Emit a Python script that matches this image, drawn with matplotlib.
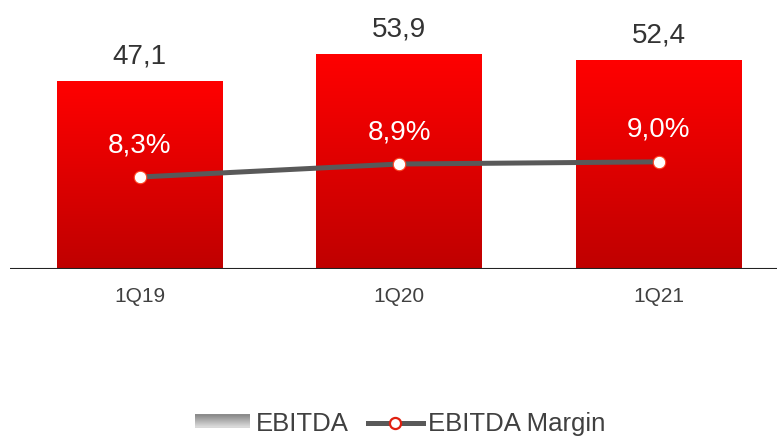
import numpy as np
import matplotlib.pyplot as plt
from matplotlib.lines import Line2D
from matplotlib.patches import Patch, Rectangle
from matplotlib.legend_handler import HandlerBase

quarters = ["1Q19", "1Q20", "1Q21"]
ebitda = [47.1, 53.9, 52.4]
margin = [8.3, 8.9, 9.0]
ebitda_labels = ["47,1", "53,9", "52,4"]
margin_labels = ["8,3%", "8,9%", "9,0%"]

plt.rcParams['font.family'] = ['Liberation Sans', 'DejaVu Sans']


class GrayGradientHandler(HandlerBase):
    # legend key drawn as a small grey gradient bar
    def create_artists(self, legend, orig_handle, xdescent, ydescent,
                       width, height, fontsize, trans):
        n = 12
        arts = []
        for k in range(n):
            g = 0.55 + 0.30 * k / (n - 1)
            r = Rectangle((-xdescent, -ydescent + height * (n - 1 - k) / n),
                          width, height / n + 0.3, facecolor=(g, g, g),
                          edgecolor='none', transform=trans)
            arts.append(r)
        return arts


fig = plt.figure(figsize=(7.77, 4.38), dpi=100)
ax = fig.add_axes([10 / 777, 169 / 438, 767 / 777, 259 / 438])

x = np.arange(len(quarters))
bars = ax.bar(x, ebitda, width=0.64, color='none', edgecolor='none', zorder=2)

# red vertical gradient inside each bar
grad = np.linspace(0, 1, 256).reshape(-1, 1)
top = np.array([1.0, 0.0, 0.0])
bottom = np.array([0.75, 0.0, 0.0])
img = top[None, None, :] * (1 - grad[:, :, None]) + bottom[None, None, :] * grad[:, :, None]
for b in bars:
    x0, y0 = b.get_x(), b.get_y()
    w, h = b.get_width(), b.get_height()
    ax.imshow(img, extent=[x0, x0 + w, y0, y0 + h], aspect='auto', zorder=2)

ax.set_xlim(-0.501, 2.457)
ax.set_ylim(0, 65)

for i, v in enumerate(ebitda):
    ax.text(x[i], v + 4.4, ebitda_labels[i], ha='center', va='baseline',
            fontsize=20, color='#333333')

ax.axhline(0, color='#222222', lw=1.5, zorder=3)
for s in ax.spines.values():
    s.set_visible(False)
ax.set_yticks([])
ax.set_xticks(x)
ax.set_xticklabels(quarters, fontsize=15, color='#404040')
ax.tick_params(axis='x', length=0, pad=13)

ax2 = ax.twinx()
ax2.set_ylim(4.06, 16.0)
ax2.plot(x, margin, color='#595959', lw=3.6, zorder=4,
         marker='o', markersize=9, markerfacecolor='white',
         markeredgecolor='#ff4020', markeredgewidth=0.8)
for i, v in enumerate(margin):
    ax2.text(x[i], v + 1.15, margin_labels[i], ha='center', va='baseline',
             fontsize=20, color='white')
ax2.set_yticks([])
for s in ax2.spines.values():
    s.set_visible(False)

handles = [
    Patch(facecolor='#a6a6a6', edgecolor='none'),
    Line2D([0], [0], color='#595959', lw=3.6, marker='o', markersize=8,
           markerfacecolor='white', markeredgecolor='#e02010', markeredgewidth=1.6),
]
fig.legend(handles, ["EBITDA", "EBITDA Margin"], loc='center',
           bbox_to_anchor=(0.515, 0.033), ncol=2, frameon=False, fontsize=18.5,
           handlelength=2.15, handleheight=0.4, handletextpad=0.2,
           columnspacing=0.75, labelcolor='#404040', borderpad=0,
           handler_map={Patch: GrayGradientHandler()})

fig.savefig("out.png", dpi=100)
